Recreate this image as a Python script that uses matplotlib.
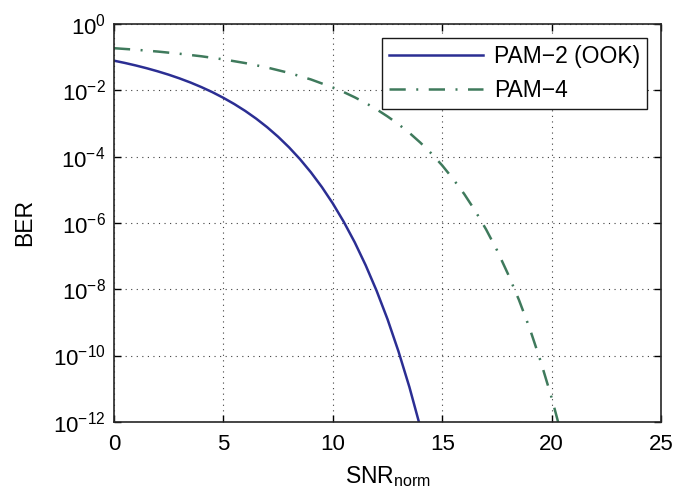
"""BER vs normalized SNR for PAM-2 (OOK) and PAM-4."""

import matplotlib
matplotlib.use("Agg")
import matplotlib.pyplot as plt
from matplotlib.ticker import FixedLocator, NullLocator

# values (SNR_norm in dB, BER)
snr_pam2 = [0, 0.5, 1, 1.5, 2, 2.5, 3, 3.5, 4, 4.5, 5, 5.5, 6, 6.5, 7, 7.5,
            8, 8.5, 9, 9.5, 10, 10.5, 11, 11.5, 12, 12.5, 13, 13.5, 14]
ber_pam2 = [7.86e-2, 6.71e-2, 5.63e-2, 4.64e-2, 3.75e-2, 2.97e-2, 2.29e-2,
            1.72e-2, 1.25e-2, 8.8e-3, 5.95e-3, 3.86e-3, 2.39e-3, 1.40e-3,
            7.73e-4, 3.99e-4, 1.91e-4, 8.4e-5, 3.36e-5, 1.21e-5, 3.87e-6,
            1.08e-6, 2.61e-7, 5.3e-8, 9.0e-9, 1.24e-9, 1.33e-10, 1.11e-11,
            6.8e-13]

snr_pam4 = [0, 1, 2, 3, 4, 5, 6, 7, 8, 9, 10, 10.5, 11, 11.5, 12, 12.5, 13,
            13.5, 14, 14.5, 15, 15.5, 16, 16.5, 17, 17.5, 18, 18.5, 19, 19.5,
            20, 20.5, 21]
ber_pam4 = [0.187, 0.168, 0.148, 0.127, 0.1065, 0.086, 0.0665, 0.0488,
            0.0336, 0.0213, 0.0122, 8.84e-3, 6.17e-3, 4.15e-3, 2.67e-3,
            1.63e-3, 9.5e-4, 5.2e-4, 2.64e-4, 1.25e-4, 5.4e-5, 2.1e-5,
            7.5e-6, 2.34e-6, 6.4e-7, 1.5e-7, 2.9e-8, 4.8e-9, 6.4e-10,
            6.5e-11, 5.2e-12, 3.0e-13, 1.2e-14]

x_ticks = [0, 5, 10, 15, 20, 25]
y_exponents = [-12, -10, -8, -6, -4, -2, 0]

plt.rcParams['font.family'] = ['Liberation Sans', 'DejaVu Sans']
plt.rcParams['mathtext.fontset'] = 'custom'
plt.rcParams['mathtext.rm'] = 'Liberation Sans'
plt.rcParams['mathtext.it'] = 'Liberation Sans'
plt.rcParams['mathtext.default'] = 'regular'

fig = plt.figure(figsize=(6.74, 5.01), dpi=100)
ax = fig.add_axes([0.169, 0.158, 0.812, 0.794])

ax.semilogy(snr_pam2, ber_pam2, '-', color='#2b2e93', lw=1.8,
            label='PAM\u22122 (OOK)')
ax.semilogy(snr_pam4, ber_pam4, color='#3f7a5c', lw=1.8,
            linestyle=(0, (6.5, 4.2, 0.8, 4.2)), label='PAM\u22124')

ax.set_xlim(0, 25)
ax.set_ylim(1e-12, 1e0)
ax.xaxis.set_major_locator(FixedLocator(x_ticks))
ax.yaxis.set_major_locator(FixedLocator([10.0 ** e for e in y_exponents]))
ax.yaxis.set_minor_locator(NullLocator())
ax.set_yticklabels([r'$10^{%d}$' % e for e in y_exponents])

ax.grid(True, which='major', linestyle=(0, (1, 4)), color='0.25', lw=0.8)
ax.tick_params(direction='in', top=True, right=True, labelsize=16,
               length=5, width=1.0, pad=6)
ax.tick_params(axis='x', pad=9)
for side in ax.spines.values():
    side.set_linewidth(1.2)
    side.set_color('0.15')

ax.set_xlabel(r'SNR$_{\rm norm}$', fontsize=16.5, labelpad=6)
ax.set_ylabel('BER', fontsize=16.5, labelpad=12)

leg = ax.legend(loc='upper right', fontsize=16.5, fancybox=False,
                framealpha=1, edgecolor='0.1', borderpad=0.3,
                borderaxespad=0, handlelength=4.1, handletextpad=0.5,
                bbox_to_anchor=(0.974, 0.965))
leg.get_frame().set_linewidth(1.0)

fig.savefig('out.png', dpi=100)
